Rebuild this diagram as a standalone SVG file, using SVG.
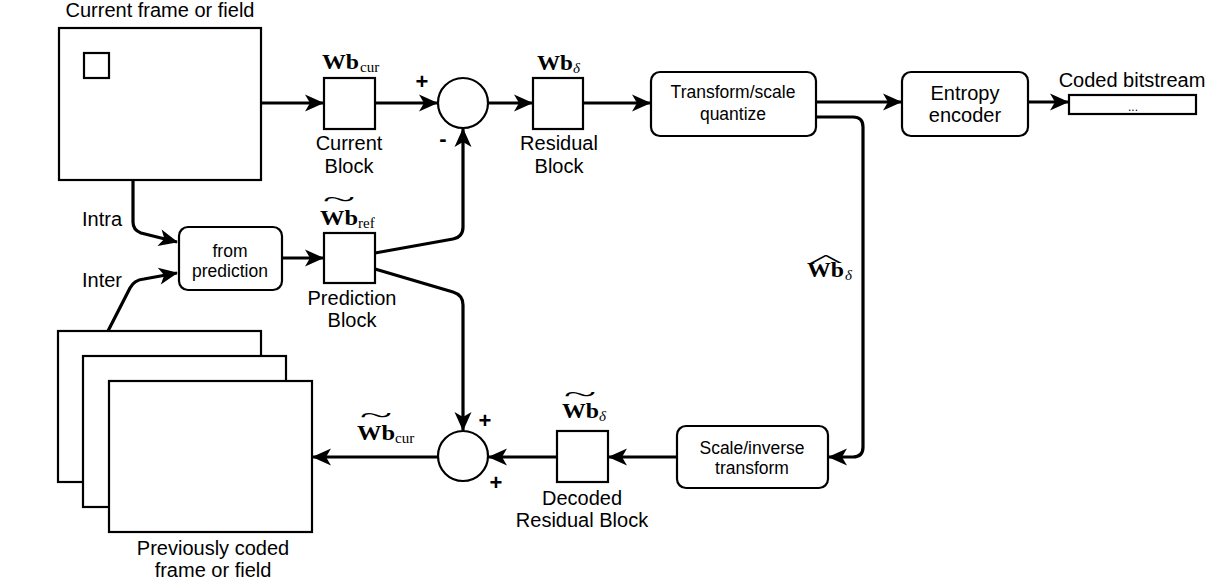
<svg xmlns="http://www.w3.org/2000/svg" width="1222" height="588" viewBox="0 0 1222 588">
<defs>
<marker id="ah" markerUnits="userSpaceOnUse" markerWidth="20" markerHeight="18" refX="18" refY="8.5" orient="auto" overflow="visible">
<path d="M0,0 L19,8.5 L0,17 L5,8.5 z" fill="#000"/>
</marker>
<style>
.box{fill:#fff;stroke:#000;stroke-width:2.2}
.con{fill:none;stroke:#000;stroke-width:3.2;stroke-linejoin:round;marker-end:url(#ah)}
.lbl{font-family:"Liberation Sans",Arial,sans-serif;font-size:20px;fill:#000;text-anchor:middle}
.btx{font-family:"Liberation Sans",Arial,sans-serif;font-size:17.5px;fill:#000;text-anchor:middle}
.mb{font-family:"Liberation Serif","Times New Roman",serif;font-size:22px;font-weight:bold;fill:#000}
.ms{font-family:"Liberation Serif","Times New Roman",serif;font-size:15px;fill:#000}
.md{font-family:"Liberation Serif","Times New Roman",serif;font-size:15px;font-style:italic;fill:#000}
.acc{font-family:"Liberation Serif","Times New Roman",serif;font-size:20px;fill:#000;text-anchor:middle}
.sign{font-family:"Liberation Sans",Arial,sans-serif;font-size:22px;font-weight:bold;fill:#000;text-anchor:middle}
</style>
</defs>
<rect width="1222" height="588" fill="#fff"/>

<g id="current-frame">
<rect class="box" x="59" y="28" width="202" height="152"/>
<rect class="box" x="84" y="53" width="25" height="25"/>
<text class="lbl" x="160" y="17">Current frame or field</text>
</g>

<g id="current-block">
<rect class="box" x="324" y="78" width="51" height="51"/>
<text class="mb" x="322" y="69" textLength="37" lengthAdjust="spacingAndGlyphs">Wb</text>
<text class="ms" x="360" y="72">cur</text>
<text class="lbl" x="349" y="150">Current</text>
<text class="lbl" x="349" y="173">Block</text>
</g>

<g id="sum-top">
<circle class="box" cx="463" cy="103" r="25"/>
<text class="sign" x="422" y="89">+</text>
<text class="sign" x="443" y="146">-</text>
</g>

<g id="residual-block">
<rect class="box" x="533" y="78" width="50" height="51"/>
<text class="mb" x="537" y="70" textLength="36" lengthAdjust="spacingAndGlyphs">Wb</text>
<text class="md" x="573" y="73">δ</text>
<text class="lbl" x="559" y="150">Residual</text>
<text class="lbl" x="559" y="173">Block</text>
</g>

<g id="transform">
<rect class="box" x="651" y="72" width="165" height="64" rx="9"/>
<text class="btx" x="733" y="98">Transform/scale</text>
<text class="btx" x="733" y="120">quantize</text>
</g>

<g id="entropy">
<rect class="box" x="902" y="72" width="126" height="64" rx="9"/>
<text class="lbl" x="965" y="100">Entropy</text>
<text class="lbl" x="965" y="122">encoder</text>
</g>

<g id="bitstream">
<rect class="box" x="1069" y="95" width="127" height="19"/>
<text class="lbl" x="1132" y="87">Coded bitstream</text>
<text class="lbl" x="1133" y="111" style="font-size:12px">...</text>
</g>

<g id="from-prediction">
<rect class="box" x="179" y="227" width="103" height="63" rx="9"/>
<text class="btx" x="230" y="257">from</text>
<text class="btx" x="230" y="277">prediction</text>
<text class="lbl" x="102" y="226">Intra</text>
<text class="lbl" x="102" y="287">Inter</text>
</g>

<g id="prediction-block">
<rect class="box" x="324" y="233" width="51" height="50"/>
<text class="acc" transform="translate(339,207) scale(3,1.2)" x="0" y="0">~</text>
<text class="mb" x="320" y="225" textLength="38" lengthAdjust="spacingAndGlyphs">Wb</text>
<text class="ms" x="358" y="228">ref</text>
<text class="lbl" x="352" y="305">Prediction</text>
<text class="lbl" x="352" y="327">Block</text>
</g>

<g id="previous-frames">
<rect class="box" x="58" y="331" width="203" height="151"/>
<rect class="box" x="83" y="356" width="203" height="151"/>
<rect class="box" x="109" y="381" width="203" height="151"/>
<text class="lbl" x="213" y="555">Previously coded</text>
<text class="lbl" x="213" y="577">frame or field</text>
</g>

<g id="sum-bottom">
<circle class="box" cx="463" cy="456" r="25"/>
<text class="sign" x="485" y="428">+</text>
<text class="sign" x="496" y="490">+</text>
<text class="acc" transform="translate(376,423) scale(3,1.2)" x="0" y="0">~</text>
<text class="mb" x="357" y="440" textLength="38" lengthAdjust="spacingAndGlyphs">Wb</text>
<text class="ms" x="395" y="443">cur</text>
</g>

<g id="decoded-block">
<rect class="box" x="557" y="431" width="51" height="51"/>
<text class="acc" transform="translate(580,402) scale(3,1.2)" x="0" y="0">~</text>
<text class="mb" x="562" y="418" textLength="37" lengthAdjust="spacingAndGlyphs">Wb</text>
<text class="md" x="599" y="421">δ</text>
<text class="lbl" x="582" y="505">Decoded</text>
<text class="lbl" x="582" y="527">Residual Block</text>
</g>

<g id="scale-inverse">
<rect class="box" x="677" y="426" width="151" height="62" rx="9"/>
<text class="btx" x="752" y="454">Scale/inverse</text>
<text class="btx" x="752" y="474">transform</text>
</g>

<g id="hat-label">
<text class="acc" transform="translate(826,266) scale(3.6,0.8)" x="0" y="0">^</text>
<text class="mb" x="807" y="277" textLength="37" lengthAdjust="spacingAndGlyphs">Wb</text>
<text class="md" x="845" y="280">δ</text>
</g>

<g id="connectors">
<path class="con" d="M261,103 L323,103"/>
<path class="con" d="M375,103 L437,103"/>
<path class="con" d="M488,103 L532,103"/>
<path class="con" d="M583,103 L650,103"/>
<path class="con" d="M816,102 L901,102"/>
<path class="con" d="M1028,102 L1068,102"/>
<path class="con" d="M816,117 L853,117 Q863,117 863,127 L863,447 Q863,457 853,457 L829,457"/>
<path class="con" d="M133,180 L133,222 Q133,230 141,233 L177,242"/>
<path class="con" d="M108,331 L130,288 Q134,280 144,279 L177,273"/>
<path class="con" d="M282,258 L323,258"/>
<path class="con" d="M375,253 L453,239 Q463,237 463,227 L463,129"/>
<path class="con" d="M375,269 L453,292 Q463,295 463,305 L463,430"/>
<path class="con" d="M677,457 L609,457"/>
<path class="con" d="M557,457 L489,457"/>
<path class="con" d="M438,457 L313,457"/>
</g>
</svg>
